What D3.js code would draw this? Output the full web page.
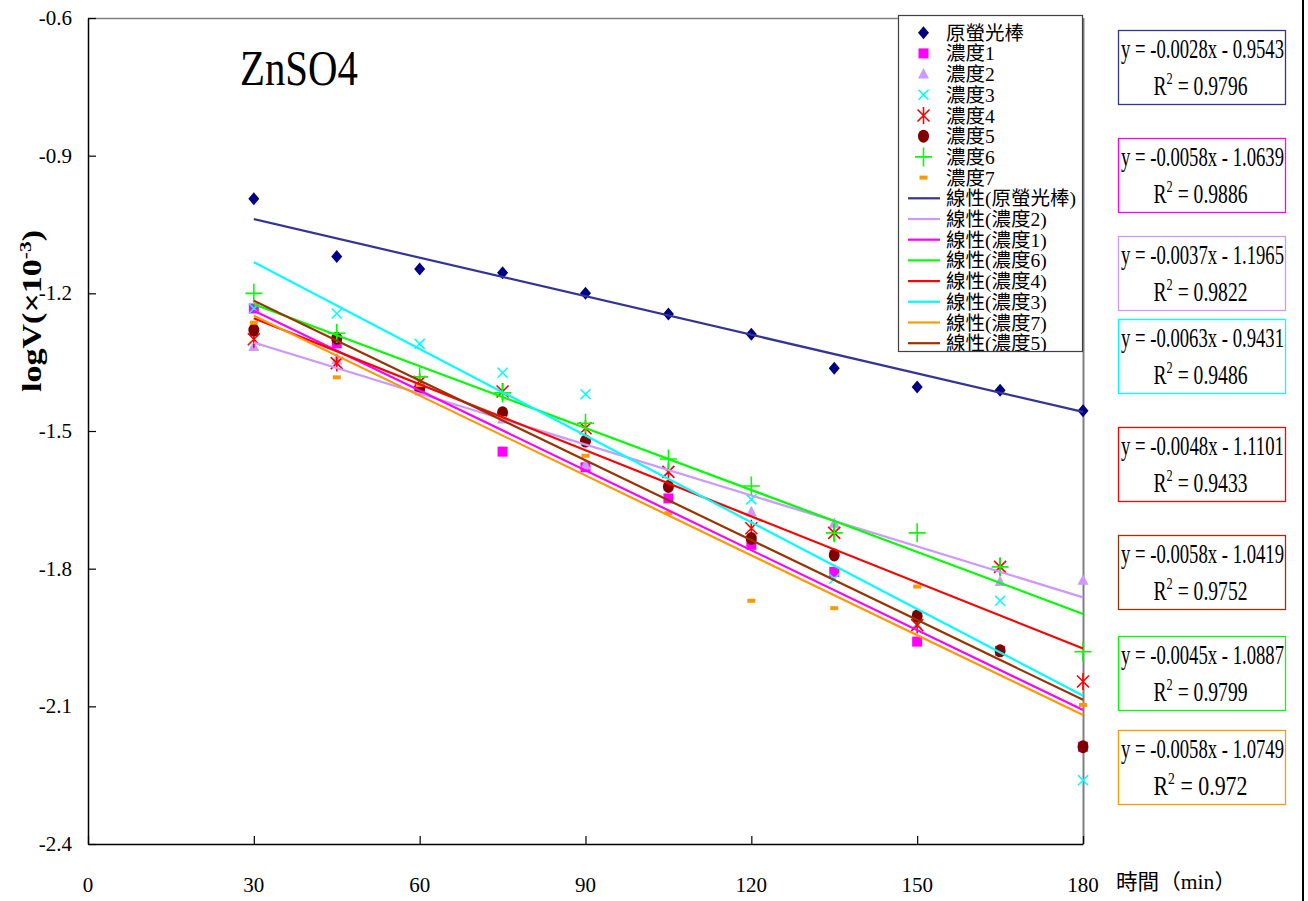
<!DOCTYPE html>
<html>
<head>
<meta charset="utf-8">
<script src="https://cdn.jsdelivr.net/npm/d3@7/dist/d3.min.js"></script>
<style>
  html, body { margin: 0; padding: 0; background: #fff; }
  svg { display: block; }
</style>
</head>
<body>
<svg id="chart" width="1308" height="901"></svg>
<script>
// ---- data ----
const times = [30, 45, 60, 75, 90, 105, 120, 135, 150, 165, 180];
const seriesNames = ["原螢光棒", "濃度1", "濃度2", "濃度3", "濃度4", "濃度5", "濃度6", "濃度7"];
const original = [-0.994, -1.120, -1.147, -1.155, -1.200, -1.245, -1.289, -1.363, -1.404, -1.411, -1.456];
const conc1 = [-1.233, -1.309, -1.406, -1.545, -1.579, -1.647, -1.748, -1.807, -1.959, -1.979, -2.188];
const conc2 = [-1.316, -1.345, -1.413, -1.474, -1.574, -1.620, -1.676, -1.701, null, -1.828, -1.825];
const conc3 = [-1.233, -1.244, -1.310, -1.373, -1.420, -1.589, -1.649, -1.822, -1.920, -1.870, -2.261];
const conc4 = [-1.300, -1.352, -1.393, -1.414, -1.494, -1.589, -1.712, -1.722, -1.923, -1.796, -2.046];
const conc5 = [-1.280, -1.298, -1.407, -1.460, -1.522, -1.621, -1.734, -1.770, -1.903, -1.979, -2.188];
const conc6 = [-1.200, -1.287, -1.382, -1.417, -1.483, -1.561, -1.620, -1.722, -1.722, -1.796, -1.981];
const conc7 = [-1.264, -1.383, -1.400, -1.472, -1.554, -1.679, -1.870, -1.886, -1.839, null, -2.097];
const slopes = [-0.0028, -0.0058, -0.0037, -0.0063, -0.0048, -0.0058, -0.0045, -0.0058];
const intercepts = [-0.9543, -1.0639, -1.1965, -0.9431, -1.1101, -1.0419, -1.0887, -1.0749];
const r2Values = [0.9796, 0.9886, 0.9822, 0.9486, 0.9433, 0.9752, 0.9799, 0.972];
const trendLegendOrder = [0, 2, 1, 6, 4, 3, 7, 5];
const yTicks = [-2.4, -2.1, -1.8, -1.5, -1.2, -0.9, -0.6];
const xTicks = [0, 30, 60, 90, 120, 150, 180];

// ---- styling ----
const seriesValues = [original, conc1, conc2, conc3, conc4, conc5, conc6, conc7];
const markerColors = ["#000080", "#ff00ff", "#cc99ff", "#00ffff", "#ff0000", "#800000", "#00ff00", "#ff9900"];
const lineColors   = ["#333399", "#ff00ff", "#cc99ff", "#00ffff", "#ff0000", "#993300", "#00ff00", "#ff9900"];
const markerTypes  = ["diamond", "square", "triangle", "x", "star", "circle", "plus", "dash"];
const SERIF = "'Liberation Serif','Times New Roman',serif";
const MIXED = "'Liberation Serif','Noto Sans CJK TC',serif";

const svg = d3.select("#chart");
const x = d3.scaleLinear().domain([0, 180]).range([88, 1083]);
const y = d3.scaleLinear().domain([-2.4, -0.6]).range([844, 18]);

// squeeze a text element horizontally to a given width
function fitWidth(g, textSel, width) {
  const w = textSel.node().getComputedTextLength();
  const t = g.attr("transform") || "";
  g.attr("transform", t + ` scale(${width / w},1)`);
}

// draw one marker of a given type into a parent selection
function drawMarker(parent, type, color, cx, cy) {
  const g = parent.append("g").attr("transform", `translate(${cx},${cy})`);
  switch (type) {
    case "diamond":
      g.append("path").attr("d", "M0,-6.5L5.5,0L0,6.5L-5.5,0Z").attr("fill", color); break;
    case "square":
      g.append("rect").attr("x", -5).attr("y", -5).attr("width", 10).attr("height", 10).attr("fill", color); break;
    case "triangle":
      g.append("path").attr("d", "M0,-6L5.5,4.5L-5.5,4.5Z").attr("fill", color); break;
    case "x":
      g.append("path").attr("d", "M-5,-5L5,5M-5,5L5,-5").attr("stroke", color).attr("stroke-width", 1.6).attr("fill", "none"); break;
    case "star":
      g.append("path").attr("d", "M-6,-6L6,6M-6,6L6,-6M0,-8.5L0,8.5").attr("stroke", color).attr("stroke-width", 1.6).attr("fill", "none"); break;
    case "circle":
      g.append("ellipse").attr("rx", 5.5).attr("ry", 6.5).attr("fill", color); break;
    case "plus":
      g.append("path").attr("d", "M-8.5,0L8.5,0M0,-9.5L0,9.5").attr("stroke", color).attr("stroke-width", 1.6).attr("fill", "none"); break;
    case "dash":
      g.append("rect").attr("x", -4).attr("y", -2).attr("width", 8).attr("height", 4).attr("fill", color); break;
  }
}

// ---- frame ----
svg.append("line").attr("x1", 88).attr("x2", 1083).attr("y1", 18.5).attr("y2", 18.5).attr("stroke", "#808080").attr("stroke-width", 1.5);
svg.append("line").attr("x1", 1083.5).attr("x2", 1083.5).attr("y1", 18).attr("y2", 844).attr("stroke", "#808080").attr("stroke-width", 2);

// ---- axes ----
const xAxis = d3.axisBottom(x).tickValues(xTicks).tickSizeInner(-8).tickSizeOuter(0).tickFormat("");
const gx = svg.append("g").attr("transform", "translate(0,844)").call(xAxis);
gx.select(".domain").attr("stroke", "#000").attr("stroke-width", 1.5);
gx.selectAll(".tick line").attr("stroke", "#000").attr("stroke-width", 1.2);

const yAxis = d3.axisLeft(y).tickValues(yTicks).tickSizeInner(-8).tickSizeOuter(0).tickFormat("");
const gy = svg.append("g").attr("transform", "translate(88,0)").call(yAxis);
gy.select(".domain").attr("stroke", "#000").attr("stroke-width", 1.5);
gy.selectAll(".tick line").attr("stroke", "#000").attr("stroke-width", 1.2);

// tick labels
yTicks.forEach(v => {
  svg.append("text").attr("x", 72).attr("y", y(v) + 7)
    .attr("text-anchor", "end").attr("font-family", SERIF).attr("font-size", 21)
    .text(v.toFixed(1));
});
xTicks.forEach(v => {
  svg.append("text").attr("x", x(v)).attr("y", 892)
    .attr("text-anchor", "middle").attr("font-family", SERIF).attr("font-size", 21)
    .text(String(v));
});

// axis titles
const gxl = svg.append("g").attr("transform", "translate(1116,889)");
const xlab = gxl.append("text").attr("font-family", MIXED).attr("font-size", 21).text("時間（min）");
fitWidth(gxl, xlab, 120);

const gyl = svg.append("g").attr("transform", "translate(41,311) rotate(-90)");
const ylab = gyl.append("text").attr("text-anchor", "middle")
  .attr("font-family", SERIF).attr("font-size", 27).attr("font-weight", "bold");
ylab.append("tspan").text("logV(×10");
ylab.append("tspan").attr("dy", -10).attr("font-size", 17).text("-3");
ylab.append("tspan").attr("dy", 10).text(")");
fitWidth(gyl, ylab, 162);

// chart title
const gt = svg.append("g").attr("transform", "translate(240,85)");
const tt = gt.append("text").attr("font-family", SERIF).attr("font-size", 50).text("ZnSO4");
fitWidth(gt, tt, 118);

// ---- markers ----
const markerLayer = svg.append("g");
seriesValues.forEach((vals, s) => {
  vals.forEach((v, i) => {
    if (v === null) return;
    drawMarker(markerLayer, markerTypes[s], markerColors[s], x(times[i]), y(v));
  });
});

// ---- linear trendlines from the fitted equations ----
const trendLine = d3.line().x(d => x(d[0])).y(d => y(d[1]));
const tStart = times[0], tEnd = times[times.length - 1];
trendLegendOrder.forEach(s => {
  const pts = [[tStart, slopes[s] * tStart + intercepts[s]], [tEnd, slopes[s] * tEnd + intercepts[s]]];
  svg.append("path").attr("d", trendLine(pts)).attr("fill", "none")
    .attr("stroke", lineColors[s]).attr("stroke-width", 2.2);
});

// ---- legend ----
const legX = 898, legY = 15, legW = 185, legH = 337;
svg.append("clipPath").attr("id", "legclip").append("rect")
  .attr("x", legX).attr("y", legY).attr("width", legW).attr("height", legH);
svg.append("rect").attr("x", legX).attr("y", legY).attr("width", legW).attr("height", legH)
  .attr("fill", "#fff");
const leg = svg.append("g").attr("clip-path", "url(#legclip)");
const rowY = i => 32.7 + i * 20.7;
seriesNames.forEach((name, s) => {
  drawMarker(leg, markerTypes[s], markerColors[s], 923.5, rowY(s));
  leg.append("text").attr("x", 946).attr("y", rowY(s) + 7)
    .attr("font-family", MIXED).attr("font-size", 19.5).text(name);
});
trendLegendOrder.forEach((s, k) => {
  const r = rowY(8 + k);
  leg.append("line").attr("x1", 908).attr("x2", 940).attr("y1", r).attr("y2", r)
    .attr("stroke", lineColors[s]).attr("stroke-width", 2.2);
  leg.append("text").attr("x", 946).attr("y", r + 7)
    .attr("font-family", MIXED).attr("font-size", 19.5).text(`線性(${seriesNames[s]})`);
});
svg.append("rect").attr("x", legX + 0.5).attr("y", legY + 0.5).attr("width", legW - 1).attr("height", legH - 1)
  .attr("fill", "none").attr("stroke", "#404040").attr("stroke-width", 1.2);

// ---- equation boxes ----
const boxTops = [30, 138, 236, 319, 427, 535, 636, 730];
const boxL = 1118, boxR = 1285, boxH = 74;
slopes.forEach((m, s) => {
  const top = boxTops[s];
  svg.append("rect").attr("x", boxL + 0.5).attr("y", top + 0.5).attr("width", boxR - boxL).attr("height", boxH)
    .attr("fill", "#fff").attr("stroke", lineColors[s]).attr("stroke-width", 1.3);
  const cx = (boxL + boxR) / 2 + 1;
  const ge = svg.append("g").attr("transform", `translate(${cx},${top + 28})`);
  const te = ge.append("text").attr("text-anchor", "middle").attr("font-family", SERIF).attr("font-size", 27)
    .text(`y = ${m.toFixed(4)}x - ${Math.abs(intercepts[s]).toFixed(4)}`);
  fitWidth(ge, te, 163);
  const gr = svg.append("g").attr("transform", `translate(${cx - 2},${top + 65})`);
  const tr = gr.append("text").attr("text-anchor", "middle").attr("font-family", SERIF).attr("font-size", 27);
  tr.append("tspan").text("R");
  tr.append("tspan").attr("dy", -11).attr("font-size", 17).text("2");
  tr.append("tspan").attr("dy", 11).text(" = " + String(r2Values[s]));
  fitWidth(gr, tr, 94);
});

// right edge rule
svg.append("rect").attr("x", 1302).attr("y", 0).attr("width", 2).attr("height", 901).attr("fill", "#000");
</script>
</body>
</html>
